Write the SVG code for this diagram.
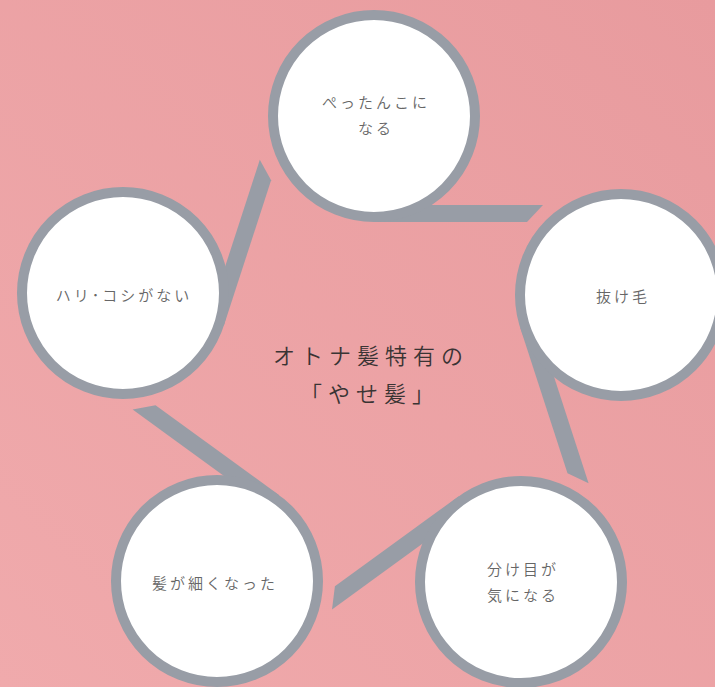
<svg xmlns="http://www.w3.org/2000/svg" width="715" height="687" viewBox="0 0 715 687">
  <defs>
    <linearGradient id="bg" x1="1" y1="0" x2="0" y2="1">
      <stop offset="0" stop-color="#e89b9e"/>
      <stop offset="1" stop-color="#f0aaac"/>
    </linearGradient>
  </defs>
  <style>
    .tail { fill: #989da6; }
    .ring { fill: #ffffff; stroke: #989da6; stroke-width: 10; }
    .lbl { font-family: "Noto Sans CJK JP", "Noto Sans", sans-serif; font-size: 15px; font-weight: 350; letter-spacing: 3px; fill: #666666; text-anchor: middle; dominant-baseline: central; }
    .ctr { font-family: "Noto Sans CJK JP", "Noto Sans", sans-serif; font-size: 22px; font-weight: 350; letter-spacing: 6px; fill: #3a3434; text-anchor: middle; dominant-baseline: central; }
  </style>
  <rect x="0" y="0" width="715" height="687" fill="url(#bg)"/>
  <g id="connectors">
    <polygon class="tail" points="374,222 527,222 543,205 374,205"/>
    <polygon class="tail" points="520.2,327.8 567.5,473.3 588.6,483.2 536.4,322.5"/>
    <polygon class="tail" points="458.7,496.2 334.9,586.2 332.0,609.4 468.7,510.0"/>
    <polygon class="tail" points="279.3,495.2 155.5,405.2 132.6,409.6 269.3,509.0"/>
    <polygon class="tail" points="223.8,325.8 271.1,180.3 259.8,159.8 207.6,320.5"/>
  </g>
  <g id="node-top">
    <circle class="ring" cx="374" cy="116" r="101"/>
    <text class="lbl" x="376" y="101">ぺったんこに</text>
    <text class="lbl" x="376" y="127">なる</text>
  </g>
  <g id="node-right">
    <circle class="ring" cx="621" cy="295" r="101"/>
    <text class="lbl" x="623" y="295">抜け毛</text>
  </g>
  <g id="node-bottom-right">
    <circle class="ring" cx="521" cy="582" r="101"/>
    <text class="lbl" x="523" y="568">分け目が</text>
    <text class="lbl" x="523" y="594">気になる</text>
  </g>
  <g id="node-bottom-left">
    <circle class="ring" cx="217" cy="581" r="101"/>
    <text class="lbl" x="215" y="582">髪が細くなった</text>
  </g>
  <g id="node-left">
    <circle class="ring" cx="123" cy="293" r="101"/>
    <text class="lbl" x="124" y="294">ハリ･コシがない</text>
  </g>
  <g id="center-title">
    <text class="ctr" x="371" y="354">オトナ髪特有の</text>
    <text class="ctr" x="370" y="392">「やせ髪」</text>
  </g>
</svg>
